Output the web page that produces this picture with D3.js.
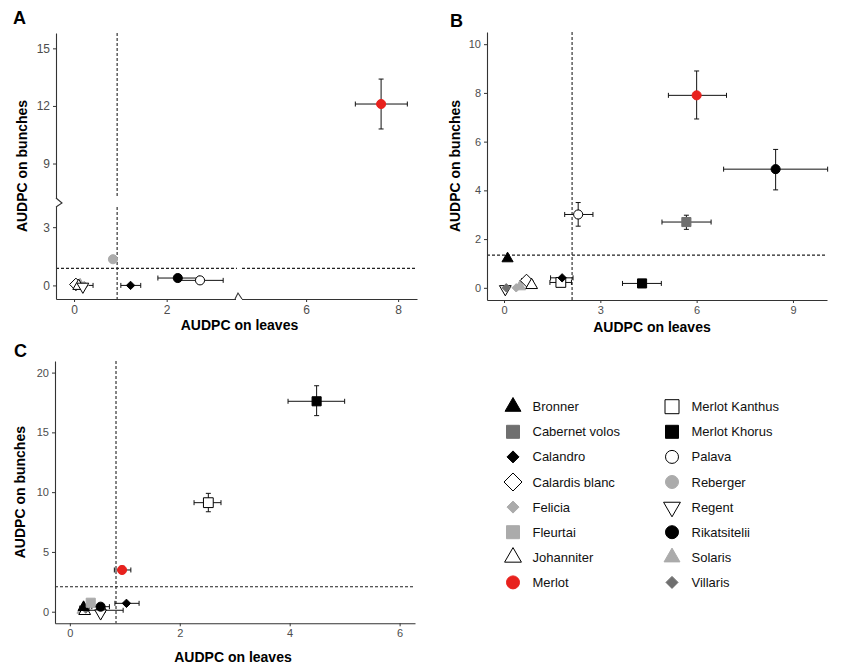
<!DOCTYPE html>
<html>
<head>
<meta charset="utf-8">
<script src="https://cdn.jsdelivr.net/npm/d3@7"></script>
<style>
  body { margin: 0; background: #fff; }
  text { font-family: "Liberation Sans", Arial, sans-serif; }
</style>
</head>
<body>
<svg id="chart" width="844" height="666"></svg>
<script>
const varieties = ["Bronner", "Cabernet volos", "Calandro", "Calardis blanc", "Felicia", "Fleurtai",
  "Johanniter", "Merlot", "Merlot Kanthus", "Merlot Khorus", "Palava", "Reberger", "Regent",
  "Rikatsitelii", "Solaris", "Villaris"];

// [variety, leaves, bunches, leavesLo, leavesHi, bunchesLo, bunchesHi]
const pointsA = [
  ["Felicia", 0.22, 0.0, 0.08, 0.41, null, null],
  ["Solaris", 0.13, 0.04, null, null, null, null],
  ["Villaris", 0.08, 0.08, null, null, null, null],
  ["Calardis blanc", 0.04, 0.05, null, null, null, null],
  ["Johanniter", 0.1, -0.03, null, null, null, null],
  ["Regent", 0.19, -0.06, null, null, null, null],
  ["Reberger", 0.84, 1.35, null, null, null, null],
  ["Calandro", 1.22, 0.0, 1.01, 1.44, null, null],
  ["Rikatsitelii", 2.24, 0.38, 1.81, 2.7, null, null],
  ["Palava", 2.72, 0.26, 2.25, 3.22, null, null],
  ["Merlot", 7.63, 12.1, 7.07, 8.2, 10.8, 13.4],
];
const pointsB = [
  ["Regent", 0.04, -0.05, null, null, null, null],
  ["Villaris", 0.07, 0.0, null, null, null, null],
  ["Bronner", 0.11, 1.2, null, null, null, null],
  ["Felicia", 0.38, 0.0, null, null, null, null],
  ["Solaris", 0.5, 0.05, null, null, null, null],
  ["Calardis blanc", 0.7, 0.3, 0.55, 0.85, null, null],
  ["Johanniter", 0.86, 0.11, null, null, null, null],
  ["Merlot Kanthus", 1.77, 0.22, 1.43, 2.1, null, null],
  ["Calandro", 1.81, 0.41, 1.45, 2.15, null, null],
  ["Palava", 2.31, 3.01, 1.89, 2.77, 2.53, 3.5],
  ["Merlot Khorus", 4.3, 0.18, 3.69, 4.9, null, null],
  ["Cabernet volos", 5.68, 2.7, 4.92, 6.45, 2.4, 2.98],
  ["Merlot", 6.0, 7.9, 5.12, 6.93, 6.93, 8.9],
  ["Rikatsitelii", 8.46, 4.87, 6.84, 10.08, 4.02, 5.68],
];
const pointsC = [
  ["Palava", 0.57, 0.12, 0.27, 0.97, null, null],
  ["Solaris", 0.23, 0.14, null, null, null, null],
  ["Felicia", 0.26, 0.3, 0.18, 0.36, null, null],
  ["Johanniter", 0.27, 0.05, null, null, null, null],
  ["Villaris", 0.29, 0.22, null, null, null, null],
  ["Bronner", 0.25, 0.37, null, null, null, null],
  ["Fleurtai", 0.38, 0.75, null, null, null, null],
  ["Regent", 0.56, -0.13, null, null, null, null],
  ["Rikatsitelii", 0.56, 0.42, 0.4, 0.72, null, null],
  ["Calandro", 1.03, 0.7, 0.82, 1.26, null, null],
  ["Merlot", 0.95, 3.49, 0.81, 1.11, 3.2, 3.8],
  ["Merlot Kanthus", 2.52, 9.12, 2.26, 2.75, 8.36, 9.9],
  ["Merlot Khorus", 4.49, 17.6, 3.97, 5.0, 16.4, 18.9],
];

const ticksA = { x: [0, 2, 6, 8], y: [0, 3, 9, 12, 15] };
const ticksB = { x: [0, 3, 6, 9], y: [0, 2, 4, 6, 8, 10] };
const ticksC = { x: [0, 2, 4, 6], y: [0, 5, 10, 15, 20] };

// dashed reference lines (leaves, bunches)
const thresholdA = [0.93, 0.88];
const thresholdB = [2.12, 1.34];
const thresholdC = [0.84, 2.09];

const RED = "#e8211d", DARK = "#6f6f6f", LIGHT = "#ababab";
// shape, fill, stroke, half-size in legend
const style = {
  "Bronner":        ["triUp", "#000", "#000", 8.5],
  "Cabernet volos": ["square", DARK, DARK, 6.5],
  "Calandro":       ["diamond", "#000", "#000", 6],
  "Calardis blanc": ["diamond", "#fff", "#000", 9],
  "Felicia":        ["diamond", LIGHT, LIGHT, 6],
  "Fleurtai":       ["square", LIGHT, LIGHT, 6.5],
  "Johanniter":     ["triUp", "#fff", "#000", 9],
  "Merlot":         ["circle", RED, RED, 6.5],
  "Merlot Kanthus": ["square", "#fff", "#000", 7],
  "Merlot Khorus":  ["square", "#000", "#000", 6.5],
  "Palava":         ["circle", "#fff", "#000", 6.5],
  "Reberger":       ["circle", LIGHT, LIGHT, 6.5],
  "Regent":         ["triDown", "#fff", "#000", 9],
  "Rikatsitelii":   ["circle", "#000", "#000", 6.5],
  "Solaris":        ["triUp", LIGHT, LIGHT, 8.5],
  "Villaris":       ["diamond", DARK, DARK, 6],
};

function shapePath(kind, r) {
  if (kind === "circle") {
    const p = d3.path(); p.arc(0, 0, r, 0, 2 * Math.PI); return p.toString();
  }
  if (kind === "square") return `M${-r},${-r}H${r}V${r}H${-r}Z`;
  if (kind === "diamond") return `M0,${-r}L${r},0L0,${r}L${-r},0Z`;
  const R = r * 1.08, w = R * 0.866, s = kind === "triUp" ? 1 : -1;
  return `M0,${-s * R}L${w},${s * R * 0.5}L${-w},${s * R * 0.5}Z`;
}

const svg = d3.select("#chart");

function drawPanel(cfg) {
  const g = svg.append("g");
  const { x, y, ticks, fs, points, threshold } = cfg;
  const [x0, x1] = [x.range()[0], x.range()[x.range().length - 1]];
  const [yb, yt] = [y.range()[0], y.range()[y.range().length - 1]];

  // dashed lines
  const dash = g.append("g").attr("stroke", "#222").attr("stroke-width", 1.1).attr("stroke-dasharray", "3,2");
  const vx = x(threshold[0]), hy = y(threshold[1]);
  const vSegs = cfg.yBreak ? [[yt, cfg.yBreak - 2], [cfg.yBreak + 7, yb]] : [[yt, yb]];
  vSegs.forEach(([a, b]) => dash.append("line").attr("x1", vx).attr("x2", vx).attr("y1", a).attr("y2", b));
  const hSegs = cfg.xBreak ? [[x0, cfg.xBreak - 1], [cfg.xBreak + 4, x1]] : [[x0, x1]];
  hSegs.forEach(([a, b]) => dash.append("line").attr("y1", hy).attr("y2", hy).attr("x1", a).attr("x2", b));

  // axes
  const fmt = d3.format("d");
  const ax = g.append("g").attr("transform", `translate(0,${yb})`)
    .call(d3.axisBottom(x).tickValues(ticks.x).tickFormat(fmt).tickSize(3).tickSizeOuter(0).tickPadding(3));
  const ay = g.append("g").attr("transform", `translate(${x0},0)`)
    .call(d3.axisLeft(y).tickValues(ticks.y).tickFormat(fmt).tickSize(3).tickSizeOuter(0).tickPadding(3));
  [ax, ay].forEach(a => {
    a.select(".domain").attr("stroke", "#333").attr("stroke-width", 1.1);
    a.selectAll(".tick line").attr("stroke", "#333");
    a.selectAll(".tick text").attr("fill", "#4d4d4d").style("font-size", fs + "px")
      .style("font-family", '"Liberation Sans", Arial, sans-serif');
  });

  // axis breaks
  if (cfg.yBreak) {
    const b = cfg.yBreak;
    g.append("rect").attr("x", x0 - 1).attr("y", b - 1).attr("width", 2.5).attr("height", 8).attr("fill", "#fff");
    g.append("path").attr("d", `M${x0},${b - 2}L${x0 + 6},${b + 3}L${x0},${b + 7}`)
      .attr("fill", "none").attr("stroke", "#333").attr("stroke-width", 1.1);
  }
  if (cfg.xBreak) {
    const b = cfg.xBreak;
    g.append("rect").attr("x", b - 2).attr("y", yb - 1).attr("width", 6).attr("height", 2.5).attr("fill", "#fff");
    g.append("path").attr("d", `M${b - 3},${yb}L${b},${yb - 6}L${b + 4},${yb}`)
      .attr("fill", "none").attr("stroke", "#333").attr("stroke-width", 1.1);
  }

  // error bars
  const eb = g.append("g").attr("stroke", "#111").attr("stroke-width", 1);
  const cap = 2.5;
  points.forEach(([name, lx, by, xlo, xhi, ylo, yhi]) => {
    if (xlo != null) {
      eb.append("line").attr("x1", x(xlo)).attr("x2", x(xhi)).attr("y1", y(by)).attr("y2", y(by));
      [xlo, xhi].forEach(v => eb.append("line").attr("x1", x(v)).attr("x2", x(v))
        .attr("y1", y(by) - cap).attr("y2", y(by) + cap));
    }
    if (ylo != null) {
      eb.append("line").attr("x1", x(lx)).attr("x2", x(lx)).attr("y1", y(ylo)).attr("y2", y(yhi));
      [ylo, yhi].forEach(v => eb.append("line").attr("y1", y(v)).attr("y2", y(v))
        .attr("x1", x(lx) - cap).attr("x2", x(lx) + cap));
    }
  });

  // points
  g.append("g").selectAll("path").data(points).join("path")
    .attr("transform", d => `translate(${x(d[1])},${y(d[2])})`)
    .attr("d", d => shapePath(style[d[0]][0], style[d[0]][3] * 0.7))
    .attr("fill", d => style[d[0]][1])
    .attr("stroke", d => style[d[0]][2])
    .attr("stroke-width", 1);

  // titles
  g.append("text").attr("x", cfg.letter[0]).attr("y", cfg.letter[1]).text(cfg.label)
    .style("font-size", "18px").style("font-weight", "bold");
  g.append("text").attr("x", (x0 + x1) / 2 + cfg.xTitleShift).attr("y", cfg.xTitleY)
    .attr("text-anchor", "middle").text("AUDPC on leaves")
    .style("font-size", "14px").style("font-weight", "bold");
  g.append("text").attr("transform", `translate(${cfg.yTitleX},${(yb + yt) / 2}) rotate(-90)`)
    .attr("text-anchor", "middle").text("AUDPC on bunches")
    .style("font-size", "14px").style("font-weight", "bold");
}

drawPanel({
  label: "A", letter: [13, 24], fs: 12, points: pointsA, ticks: ticksA, threshold: thresholdA,
  x: d3.scaleLinear().domain([-0.39, 3.54, 4.52, 8.41]).range([56, 238, 238, 417]),
  y: d3.scaleLinear().domain([-0.7, 4.4, 7.1, 15.8]).range([299, 200, 200, 33]),
  xBreak: 238, yBreak: 200, xTitleY: 330, xTitleShift: 3, yTitleX: 27,
});
drawPanel({
  label: "B", letter: [450, 27], fs: 11, points: pointsB, ticks: ticksB, threshold: thresholdB,
  x: d3.scaleLinear().domain([-0.53, 10.06]).range([487, 827]),
  y: d3.scaleLinear().domain([-0.5, 10.5]).range([300, 32]),
  xTitleY: 332, xTitleShift: -5, yTitleX: 460,
});
drawPanel({
  label: "C", letter: [14, 357], fs: 11, points: pointsC, ticks: ticksC, threshold: thresholdC,
  x: d3.scaleLinear().domain([-0.27, 6.28]).range([55, 415]),
  y: d3.scaleLinear().domain([-0.97, 20.97]).range([623.3, 361]),
  xTitleY: 662, xTitleShift: -2, yTitleX: 25,
});

// legend
const legend = svg.append("g");
const legendRows = 8, rowGap = 25.1;
varieties.forEach((name, i) => {
  const col = Math.floor(i / legendRows), row = i % legendRows;
  const sx = col ? 672 : 513, ty = 406.7 + row * rowGap;
  const s = style[name];
  legend.append("path").attr("transform", `translate(${sx},${ty})`)
    .attr("d", shapePath(s[0], s[3])).attr("fill", s[1]).attr("stroke", s[2]).attr("stroke-width", 1);
  legend.append("text").attr("x", sx + 19.5).attr("y", ty).attr("dy", "0.35em")
    .text(name).style("font-size", "13px").attr("fill", "#111");
});
</script>
</body>
</html>
